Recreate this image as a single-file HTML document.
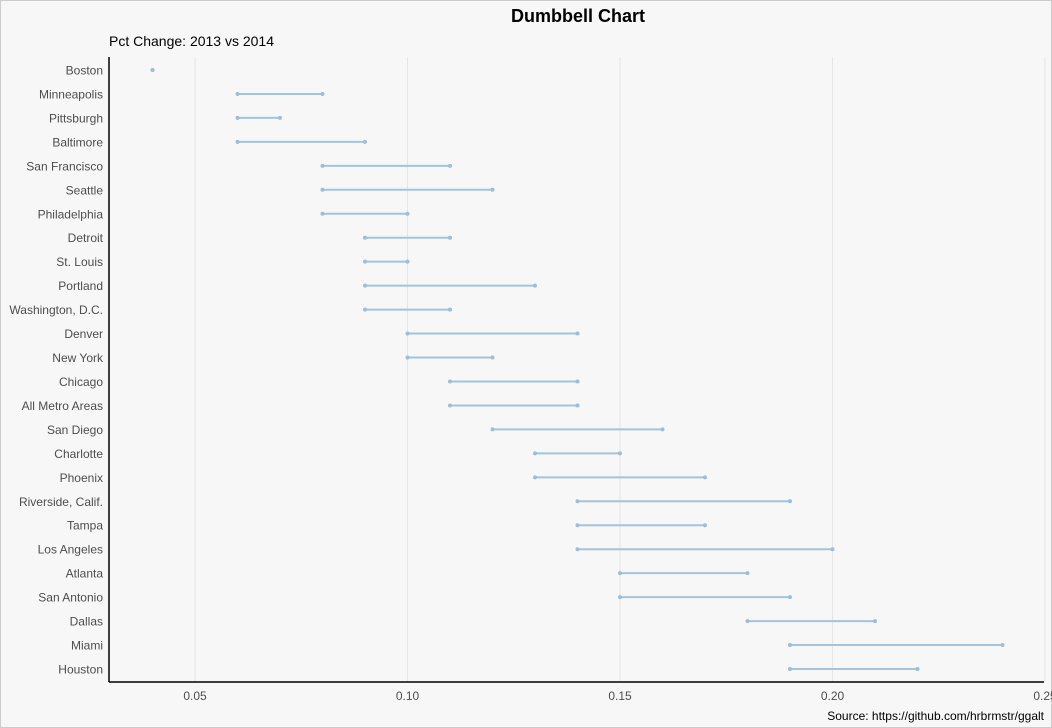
<!DOCTYPE html>
<html><head><meta charset="utf-8"><style>
body{margin:0;background:#f7f7f7;}
svg{display:block;font-family:"Liberation Sans",sans-serif;}
</style></head><body>
<svg id="chart" width="1052" height="728">
<rect x="0.5" y="0.5" width="1051" height="727" fill="#f7f7f7" stroke="#cccccc"/>
<text x="578" y="22" text-anchor="middle" font-size="18" font-weight="bold" fill="#000">Dumbbell Chart</text>
<text x="109" y="46" font-size="14" fill="#000">Pct Change: 2013 vs 2014</text>
<text x="1044" y="720" text-anchor="end" font-size="12" fill="#000">Source: https://github.com/hrbrmstr/ggalt</text>
<g id="grid"></g><g id="marks"></g><g id="axes"></g>
</svg>
<script>
const cities=["Boston","Minneapolis","Pittsburgh","Baltimore","San Francisco","Seattle","Philadelphia","Detroit","St. Louis","Portland","Washington, D.C.","Denver","New York","Chicago","All Metro Areas","San Diego","Charlotte","Phoenix","Riverside, Calif.","Tampa","Los Angeles","Atlanta","San Antonio","Dallas","Miami","Houston"];
const pct2013=[0.04,0.06,0.06,0.06,0.08,0.08,0.08,0.09,0.09,0.09,0.09,0.10,0.10,0.11,0.11,0.12,0.13,0.13,0.14,0.14,0.14,0.15,0.15,0.18,0.19,0.19];
const pct2014=[0.04,0.08,0.07,0.09,0.11,0.12,0.10,0.11,0.10,0.13,0.11,0.14,0.12,0.14,0.14,0.16,0.15,0.17,0.19,0.17,0.20,0.18,0.19,0.21,0.24,0.22];
const xTicks=[0.05,0.10,0.15,0.20,0.25];
const xTickLabels=["0.05","0.10","0.15","0.20","0.25"];

const NS="http://www.w3.org/2000/svg";
const L=109,R=1044,T=57,B=682;
const x=v=>195+(v-0.05)*4250;
const y=i=>70+i*23.96;
function mk(tag,attrs,parent,txt){const e=document.createElementNS(NS,tag);for(const k in attrs)e.setAttribute(k,attrs[k]);if(txt!==undefined)e.textContent=txt;parent.appendChild(e);return e;}
const grid=document.getElementById('grid'),marks=document.getElementById('marks'),axes=document.getElementById('axes');
xTicks.forEach((t,i)=>{
 const g=mk('line',{x1:x(t),x2:x(t),y1:T,y2:B,stroke:'#e6e6e6','stroke-width':1},grid);
 
 
 const lb=mk('text',{x:x(t),y:700,'text-anchor':'middle','font-size':12,fill:'#4d4d4d'},axes,xTickLabels[i]);
 
 
});
cities.forEach((c,i)=>{
 const lb=mk('text',{x:103,y:y(i)+4.5,'text-anchor':'end','font-size':12,fill:'#4d4d4d'},axes,c);
 
 
 const ln=mk('line',{x1:x(pct2013[i]),x2:x(pct2014[i]),y1:y(i),y2:y(i),stroke:'#a3c4dc','stroke-width':2},marks);
 
 
 const p1=mk('circle',{cx:x(pct2013[i]),cy:y(i),r:2,fill:'#9fbdd6'},marks);
 
 
 const p2=mk('circle',{cx:x(pct2014[i]),cy:y(i),r:2,fill:'#9fbdd6'},marks);
 
 
});
const ya=mk('line',{x1:L,x2:L,y1:T,y2:B,stroke:'#000','stroke-width':1.5},axes);


const xa=mk('line',{x1:L,x2:R,y1:B,y2:B,stroke:'#000','stroke-width':1.5},axes);


</script>
</body></html>
